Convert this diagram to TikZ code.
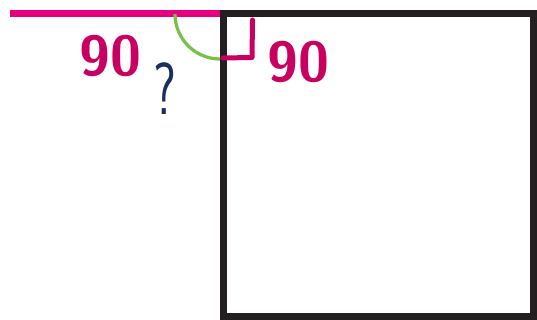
\documentclass[tikz,border=0pt]{standalone}
\usepackage{tikz}
\usetikzlibrary{positioning}
\definecolor{pinkline}{HTML}{E6007E}
\definecolor{inkred}{HTML}{C8005F}
\definecolor{arcgreen}{HTML}{78C04A}
\definecolor{boxblack}{HTML}{231F20}
\definecolor{quink}{HTML}{1B2E5C}
\tikzset{hand/.style={text=inkred, font=\sffamily\bfseries\fontsize{32}{32}\selectfont, inner sep=0pt}}

\begin{document}
\begin{tikzpicture}[x=0.02cm,y=-0.02cm]
    \useasboundingbox (0,0) rectangle (537,320);
    % the line that meets the box
    \draw[pinkline, line width=0.13cm] (10,13.3) coordinate (l0) -- (220,13.3) coordinate (corner);
    \draw[boxblack, line width=0.14cm] (223,13.5) rectangle (533.5,316.8);
    % angle marks
    \draw[arcgreen, line width=0.065cm] (175,14) arc[start angle=180, end angle=90, radius=45] coordinate (a1);
    \draw[inkred, line width=0.1cm, line cap=round, line join=round] (223,58) coordinate (r0) -- (252,57.5) coordinate (r1) -- (252.5,20) coordinate (r2);

    \node[hand] (left90) at (110,56) {90};
    \node[hand] (right90) at (298,62) {90};
    \node[text=quink, font=\sffamily\fontsize{42}{42}\selectfont, inner sep=0pt, xscale=0.7] (query) at (165,89) {?};
  \end{tikzpicture}
\end{document}
